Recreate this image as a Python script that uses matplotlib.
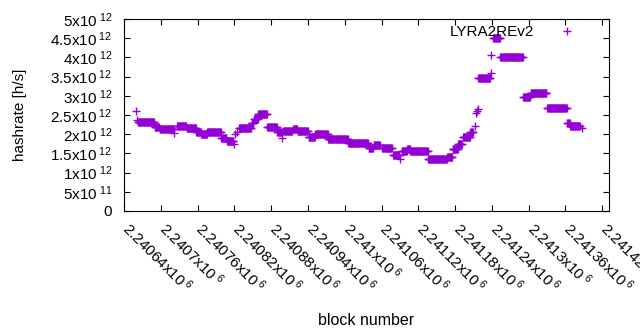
import numpy as np
import matplotlib
matplotlib.use("Agg")
import matplotlib.pyplot as plt
from matplotlib.transforms import ScaledTranslation

plt.rcParams['font.family'] = ['Liberation Sans', 'DejaVu Sans']
plt.rcParams['mathtext.fontset'] = 'custom'
plt.rcParams['mathtext.rm'] = 'Liberation Sans'
plt.rcParams['mathtext.it'] = 'Liberation Sans'

seg_start = [2240660, 2240661, 2240663, 2240690, 2240698, 2240722, 2240727, 2240742,
             2240758, 2240766, 2240776, 2240799, 2240808, 2240819, 2240821, 2240824,
             2240828, 2240848, 2240852, 2240859, 2240874, 2240890, 2240898, 2240900,
             2240916, 2240923, 2240941, 2240952, 2240973, 2241006, 2241039, 2241047,
             2241061, 2241079, 2241090, 2241093, 2241102, 2241107, 2241136, 2241167,
             2241176, 2241185, 2241193, 2241205, 2241212, 2241214, 2241216, 2241217,
             2241218, 2241238, 2241239, 2241242, 2241254, 2241291, 2241303, 2241330,
             2241363, 2241368, 2241387]
seg_end = [2240660, 2240661, 2240689, 2240697, 2240721, 2240722, 2240741, 2240757,
           2240765, 2240775, 2240798, 2240807, 2240818, 2240819, 2240821, 2240824,
           2240847, 2240851, 2240858, 2240873, 2240889, 2240897, 2240898, 2240914,
           2240922, 2240940, 2240951, 2240972, 2241005, 2241038, 2241046, 2241057,
           2241077, 2241089, 2241090, 2241101, 2241106, 2241135, 2241166, 2241175,
           2241184, 2241191, 2241204, 2241209, 2241212, 2241214, 2241216, 2241217,
           2241237, 2241238, 2241239, 2241253, 2241290, 2241302, 2241329, 2241362,
           2241367, 2241383, 2241387]
seg_value = [2.60, 2.37, 2.33, 2.20, 2.13, 2.03, 2.21, 2.15,
             2.07, 2.00, 2.05, 1.91, 1.82, 1.74, 2.00, 2.06,
             2.17, 2.29, 2.40, 2.53, 2.18, 2.05, 1.91, 2.09,
             2.14, 2.09, 1.94, 2.00, 1.87, 1.76, 1.63, 1.72,
             1.63, 1.46, 1.35, 1.55, 1.61, 1.55, 1.35, 1.41,
             1.61, 1.74, 1.94, 2.07, 2.22, 2.54, 2.61, 2.65,
             3.47, 3.59, 4.06, 4.50, 4.00, 2.98, 3.07, 2.67,
             2.28, 2.21, 2.15]

x_ticks = [2240640, 2240700, 2240760, 2240820, 2240880, 2240940, 2241000,
           2241060, 2241120, 2241180, 2241240, 2241300, 2241360, 2241420]
x_ticklabels = ['2.24064', '2.2407', '2.24076', '2.24082', '2.24088', '2.24094', '2.241',
                '2.24106', '2.24112', '2.24118', '2.24124', '2.2413', '2.24136', '2.24142']
y_ticks = [0, 0.5e12, 1e12, 1.5e12, 2e12, 2.5e12, 3e12, 3.5e12, 4e12, 4.5e12, 5e12]
y_mant = ['0', '5', '1', '1.5', '2', '2.5', '3', '3.5', '4', '4.5', '5']
y_exp = ['', '11', '12', '12', '12', '12', '12', '12', '12', '12', '12']

# one point per block
blocks, rates = [], []
for s, e, v in zip(seg_start, seg_end, seg_value):
    b = np.arange(s, e + 1)
    blocks.append(b)
    rates.append(np.full(len(b), v * 1e12))
blocks = np.concatenate(blocks)
rates = np.concatenate(rates)

fig = plt.figure(figsize=(6.4, 3.3), dpi=100)
ax = fig.add_axes([124 / 640, 1 - 211 / 330, 485 / 640, 192 / 330])

ax.plot(blocks, rates, '+', color='#9400d3', ms=6, mew=1, label='LYRA2REv2')

ax.set_xlim(2240640, 2241431)
ax.set_ylim(0, 5e12)
ax.tick_params(direction='in', length=4, top=True, right=True, width=0.8, colors='black')
ax.tick_params(axis='x', pad=6)
ax.tick_params(axis='y', pad=8.5)
ax.set_xticks(x_ticks)
ax.set_xticklabels([m + r'x10$^{\ 6}$' for m in x_ticklabels],
                   rotation=-45, ha='left', va='top', rotation_mode='anchor', fontsize=11)
# gnuplot starts the slanted labels right at the tick, nudge them right
shift = ScaledTranslation(8 / 100, 0, fig.dpi_scale_trans)
for lbl in ax.get_xticklabels():
    lbl.set_transform(lbl.get_transform() + shift)
ax.set_yticks(y_ticks)
ax.set_yticklabels([m if not e else m + 'x10$^{\\ ' + e + '}$' for m, e in zip(y_mant, y_exp)],
                   fontsize=11)
for sp in ax.spines.values():
    sp.set_linewidth(0.8)

ax.set_ylabel('hashrate [h/s]', fontsize=11)
ax.yaxis.set_label_coords(-0.2, 0.5)
ax.set_xlabel('block number', fontsize=11.5)
ax.xaxis.set_label_coords(0.5, -0.53)

ax.legend(loc='upper right', bbox_to_anchor=((585 - 124) / 485, 1.0), frameon=False,
          markerfirst=False, fontsize=11, handlelength=1.5, borderaxespad=0,
          handletextpad=1.45)

fig.savefig('out.png', dpi=100)
